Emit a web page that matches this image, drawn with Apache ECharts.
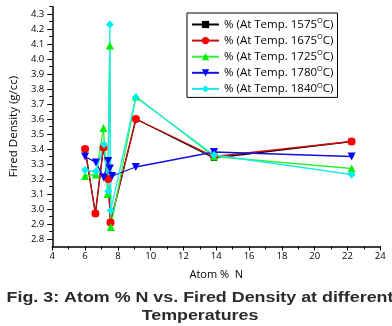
<!DOCTYPE html>
<html><head><meta charset="utf-8">
<script src="https://cdn.jsdelivr.net/npm/echarts@6/dist/echarts.min.js"></script>
<style>html,body{margin:0;padding:0;background:#fff}#c{width:392px;height:326px}</style>
</head><body><div id="c"></div>
<script>
const temps = [1575, 1675, 1725, 1780, 1840];
const x1575 = [6.0, 6.63, 7.12, 7.41, 7.55, 9.1, 13.86, 22.25];
const y1575 = [3.40, 2.97, 3.41, 3.20, 2.91, 3.60, 3.34, 3.45];
const x1675 = [6.0, 6.63, 7.12, 7.41, 7.55, 9.1, 13.86, 22.25];
const y1675 = [3.40, 2.97, 3.41, 3.20, 2.91, 3.60, 3.35, 3.45];
const x1725 = [6.0, 6.66, 7.12, 7.37, 7.51, 7.57, 9.1, 13.86, 22.25];
const y1725 = [3.22, 3.23, 3.54, 3.10, 4.09, 2.88, 3.75, 3.35, 3.27];
const x1780 = [6.0, 6.66, 7.14, 7.41, 7.51, 7.65, 9.09, 13.86, 22.25];
const y1780 = [3.35, 3.31, 3.21, 3.32, 3.27, 3.22, 3.28, 3.38, 3.35];
const x1840 = [6.0, 6.66, 7.16, 7.41, 7.51, 7.57, 9.09, 13.86, 22.25];
const y1840 = [3.26, 3.25, 3.43, 3.12, 4.23, 2.99, 3.745, 3.36, 3.23];
const yMajor = [2.8, 2.9, 3.0, 3.1, 3.2, 3.3, 3.4, 3.5, 3.6, 3.7, 3.8, 3.9, 4.0, 4.1, 4.2, 4.3];
const yMinor = [2.85, 2.95, 3.05, 3.15, 3.25, 3.35, 3.45, 3.55, 3.65, 3.75, 3.85, 3.95, 4.05, 4.15, 4.25, 4.35];

const xs = [x1575, x1675, x1725, x1780, x1840];
const ys = [y1575, y1675, y1725, y1780, y1840];
const colors = ['#000000', '#ff0000', '#00ee00', '#0000ff', '#00f0f0'];
const lineColors = ['#000000', '#c81010', '#33f033', '#1010e0', '#20e8e8'];
const symbols = ['rect', 'circle', 'triangle', 'triangle', 'diamond'];
const sizes = [6, 8, 8, 8, 8];

const chart = echarts.init(document.getElementById('c'), null, {renderer: 'canvas'});
const FONT = '"Open Sans", sans-serif';
const series = temps.map((t, i) => ({
  name: '% (At Temp. ' + t + '°C)',
  type: 'line',
  xAxisIndex: 0, yAxisIndex: 0,
  data: xs[i].map((x, j) => [x, ys[i][j]]),
  symbol: symbols[i],
  symbolRotate: i === 3 ? 180 : 0,
  symbolSize: sizes[i],
  showAllSymbol: true,
  lineStyle: {color: lineColors[i], width: 1.3},
  itemStyle: {color: colors[i]},
  animation: false
}));

const CAP_FONT = 'bold 15px "Liberation Sans", Arial, sans-serif';

chart.setOption({
  animation: false,
  backgroundColor: '#fff',
  grid: {left: 42.3, right: 11.7, top: 6.5, bottom: 79.5},
  xAxis: [{
    type: 'value', min: 4, max: 24, interval: 2,
    name: 'Atom %  N', nameLocation: 'middle', nameGap: 23,
    nameTextStyle: {fontFamily: FONT, fontSize: 11, color: '#000'},
    axisLine: {lineStyle: {color: '#000', width: 1.5}},
    axisTick: {show: true, length: 4, lineStyle: {color: '#000', width: 1}},
    minorTick: {show: true, splitNumber: 2, length: 3, lineStyle: {color: '#000', width: 1}},
    axisLabel: {fontFamily: FONT, fontSize: 9.5, color: '#000', margin: 5},
    splitLine: {show: false}
  }],
  yAxis: [{
    type: 'value', min: 2.75, max: 4.35,
    name: 'Fired Density (g/cc)', nameLocation: 'middle', nameGap: 29,
    nameTextStyle: {fontFamily: FONT, fontSize: 11.5, color: '#000'},
    axisLine: {show: true, lineStyle: {color: '#000', width: 1.5}},
    axisTick: {show: true, length: 5, customValues: yMajor, lineStyle: {color: '#000', width: 1}},
    axisLabel: {fontFamily: FONT, fontSize: 9.5, color: '#000', margin: 8, customValues: yMajor,
      formatter: v => Number(v).toFixed(1)},
    splitLine: {show: false}
  }, {
    type: 'value', min: 2.75, max: 4.35, position: 'left',
    axisLine: {show: false},
    axisTick: {show: true, length: 3, customValues: yMinor, lineStyle: {color: '#000', width: 1}},
    axisLabel: {show: false},
    splitLine: {show: false}
  }],
  legend: {
    orient: 'vertical', left: 187, top: 13,
    backgroundColor: '#fff',
    borderColor: '#000', borderWidth: 1, borderRadius: 0,
    padding: [4, 4, 1, 4],
    itemWidth: 27, itemHeight: 9, itemGap: 1.1,
    textStyle: {fontFamily: FONT, fontSize: 11.5, color: '#000', lineHeight: 14,
      rich: {sup: {fontFamily: FONT, fontSize: 7.5, color: '#000', lineHeight: 7, padding: [0, 0, 7, 0]}}},
    formatter: n => n.replace('°', '{sup|O}'),
    data: series.map(s => s.name)
  },
  graphic: [
    {type: 'text', x: 200, y: 290, scaleX: 1.19, style: {text: 'Fig. 3: Atom % N vs. Fired Density at different',
      font: CAP_FONT, fill: '#2b2b2b', textAlign: 'center', textVerticalAlign: 'top'}},
    {type: 'text', x: 200, y: 308, scaleX: 1.19, style: {text: 'Temperatures',
      font: CAP_FONT, fill: '#2b2b2b', textAlign: 'center', textVerticalAlign: 'top'}}
  ],
  series: series
});
</script></body></html>
